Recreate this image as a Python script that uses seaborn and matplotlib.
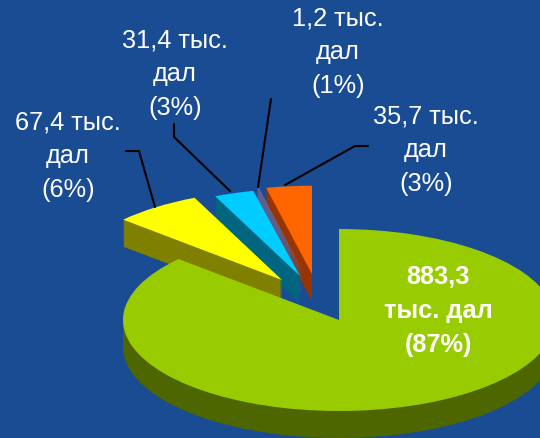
import matplotlib
matplotlib.use("Agg")
import matplotlib.pyplot as plt
import seaborn as sns

# values (thousand dal)
slices = ["main", "yellow", "blue", "purple", "orange"]
values = [883.3, 67.4, 31.4, 1.2, 35.7]
labels = ["883,3\nтыс. дал\n(87%)", "67,4 тыс.\nдал\n(6%)", "31,4 тыс.\nдал\n(3%)",
          "1,2 тыс.\nдал\n(1%)", "35,7 тыс.\nдал\n(3%)"]

top_colors = ["#99CC00", "#FFFF00", "#00CCFF", "#666699", "#FF6600"]
side_colors = ["#4D6600", "#808000", "#00667F", "#5F5F90", "#993300"]
bg_color = "#1A4C93"

# layout, all in pixels of the 540x439 picture
W, H = 540, 439
CENTER = (339, 321)
RX, RY = 216, 91
DEPTH = 27
apex_px = [(339, 321), (282, 281), (300, 277), (304, 274), (312, 275)]
radii = [1, 0.99, 0.96, 0.96, 0.97]
draw_order = [4, 3, 2, 1, 0]  # main slice goes on top
label_px = [(438, 311), (68, 156), (175, 74), (338, 52), (426, 150)]
leaders_px = [
    [(126, 152), (139, 152), (155, 208)],
    [(174, 125), (174, 138), (230, 192)],
    [(271, 100), (258, 188)],
    [(368, 147), (355, 147), (285, 186)],
]


def to_data(px, py):
    return (px - CENTER[0]) / RX, (CENTER[1] - py) / RY


sns.set_theme(style="white")
plt.rcParams["font.family"] = ["Liberation Sans", "DejaVu Sans"]

fig = plt.figure(figsize=(W / 100, H / 100), dpi=100, facecolor=bg_color)
ax = fig.add_axes([0, 0, 1, 1])

# side walls first, one pie per pixel of depth, then the top faces
for layer in range(DEPTH + 1):
    colors = side_colors if layer < DEPTH else top_colors
    wedges = ax.pie(values, startangle=90, counterclock=False, colors=colors,
                    radius=1, wedgeprops={"linewidth": 0})[0]
    for i, wedge in enumerate(wedges):
        x, y = to_data(*apex_px[i])
        wedge.set_center((x, y - (DEPTH - layer) / RY))
        wedge.set_radius(radii[i])
        wedge.set_zorder(draw_order[i] * 100 + layer)

ax.set_aspect("auto")
ax.set_xlim(to_data(0, 0)[0], to_data(W, 0)[0])
ax.set_ylim(to_data(0, H)[1], to_data(0, 0)[1])
ax.axis("off")

for line in leaders_px:
    pts = [to_data(*p) for p in line]
    ax.plot([p[0] for p in pts], [p[1] for p in pts], color="black", lw=1.5, zorder=1000)

for i, label in enumerate(labels):
    x, y = to_data(*label_px[i])
    ax.text(x, y, label, color="white", fontsize=18.3, ha="center", va="center",
            linespacing=1.52, fontweight="bold" if i == 0 else "normal", zorder=1100)

fig.savefig("out.png", dpi=100, facecolor=bg_color)
